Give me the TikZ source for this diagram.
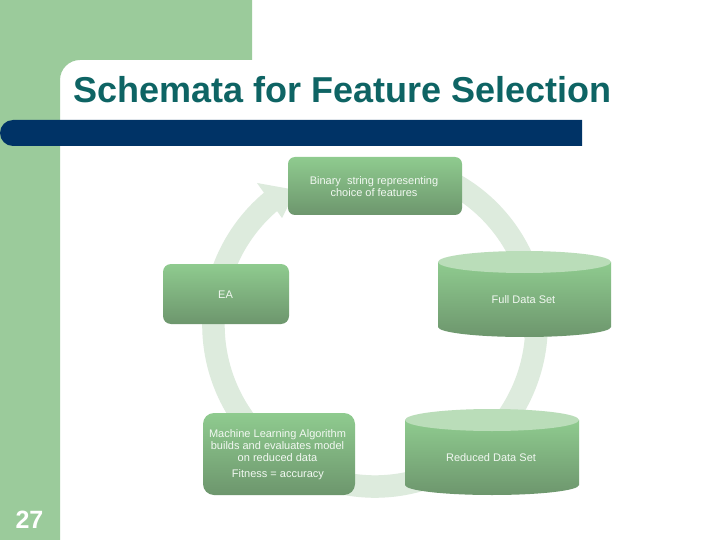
\documentclass[tikz,border=0pt]{standalone}
\usepackage{fontspec}
\setmainfont{Liberation Sans}
\definecolor{sidegreen}{HTML}{9BCB9B}
\definecolor{barblue}{HTML}{003366}
\definecolor{titleteal}{HTML}{0E6464}
\definecolor{ringgreen}{HTML}{DDEBDD}
\definecolor{gradtop}{HTML}{8FCB8F}
\definecolor{gradbot}{HTML}{6D966D}
\definecolor{captop}{HTML}{BADDB9}
\definecolor{captext}{HTML}{F2F8F2}
\tikzset{
  flowbox/.style={rounded corners=#1, top color=gradtop, bottom color=gradbot, draw=none, inner sep=0pt, outer sep=0pt},
  caption/.style={text=captext, font=\fontsize{11}{12.2}\selectfont, align=center, inner sep=0pt},
  cylbody/.style={top color=gradtop, bottom color=gradbot, draw=none},
  cylcap/.style={fill=captop, draw=none}
}
\begin{document}
\begin{tikzpicture}[x=1pt,y=-1pt]
\useasboundingbox (0,0) rectangle (720,540);
\fill[white] (0,0) rectangle (720,540);
% background
\fill[sidegreen] (0,0) -- (252,0) -- (252,60) -- (80,60) arc[start angle=270,end angle=180,radius=20] -- (60,540) -- (0,540) -- cycle;
\fill[barblue] (13,120) -- (582,120) -- (582,146) -- (13,146) arc[start angle=90,end angle=270,radius=13] -- cycle;
\node[anchor=base west,inner sep=0pt,text=titleteal,font=\fontsize{36}{40}\selectfont\bfseries] (title) at (73,103) {Schemata for Feature Selection};
\node[anchor=base,inner sep=0pt,text=white,font=\fontsize{25}{28}\selectfont\bfseries] (page) at (29.5,528) {27};
% ring
\draw[ringgreen,line width=22.5pt] (375,325) ++(290:161.5) arc[start angle=290,end angle=590.3,radius=161.5];
\fill[ringgreen] (257,183) -- (296,190) -- (282,218) -- cycle;
% boxes
\path[flowbox=7pt] (288,157) rectangle (462,215);
\node[caption] (binary) at (374,186.5) {Binary\ \ string representing\\choice of features};
\path[flowbox=8pt] (163,264) rectangle (289,324);
\node[caption] (ea) at (225.5,294.5) {EA};
\path[flowbox=11pt] (203,413) rectangle (355,495);
\node[caption] (ml) at (277.5,445.5) {Machine Learning Algorithm\\builds and evaluates model\\on reduced data};
\node[caption] (fit) at (278,474.5) {Fitness = accuracy};
% cylinders
\path[cylbody] (438,262) -- (438,327) arc[start angle=180,end angle=360,x radius=86.5,y radius=-10] -- (611,262) -- cycle;
\fill[cylcap] (524.5,262) ellipse[x radius=86.5,y radius=11];
\node[caption] (full) at (523.5,299.5) {Full Data Set};
\path[cylbody] (405,420) -- (405,485) arc[start angle=180,end angle=360,x radius=87,y radius=-10] -- (579,420) -- cycle;
\fill[cylcap] (492,420) ellipse[x radius=87,y radius=11];
\node[caption] (reduced) at (491,457.5) {Reduced Data Set};
\end{tikzpicture}
\end{document}
